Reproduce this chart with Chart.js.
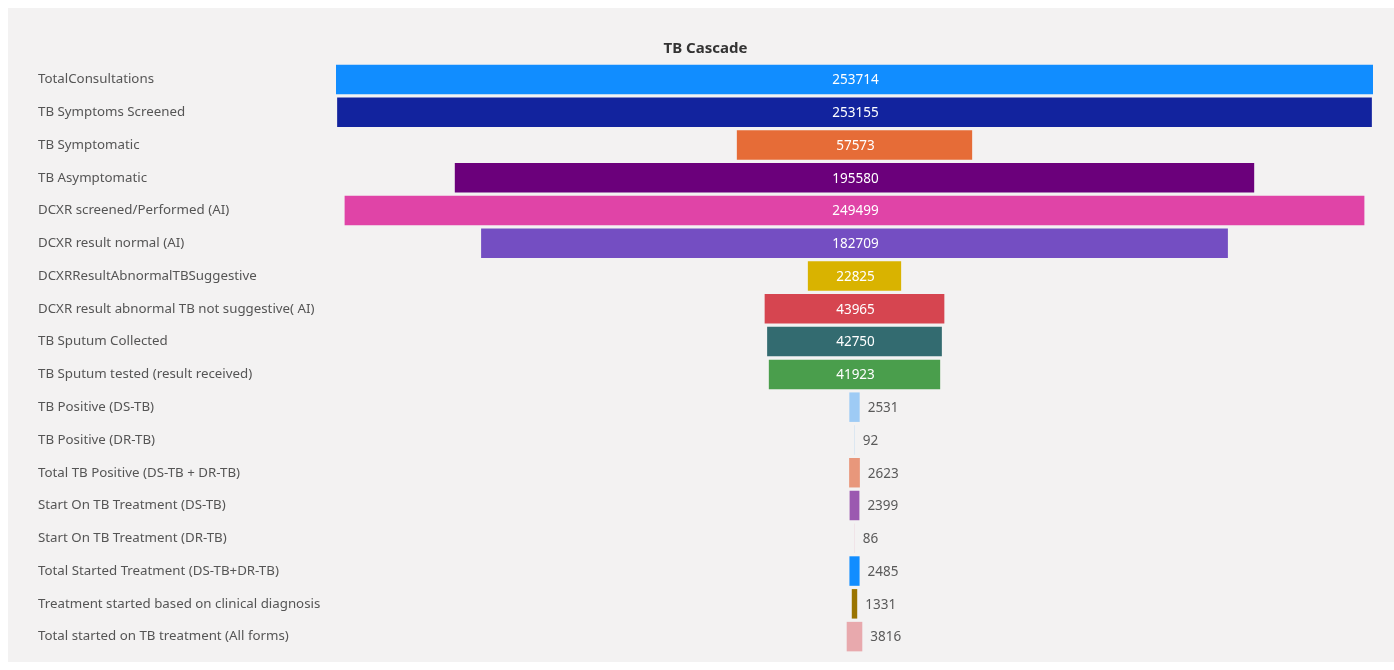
<!DOCTYPE html>
<html>
<head>
<meta charset="utf-8">
<title>TB Cascade</title>
<script src="https://cdn.jsdelivr.net/npm/chart.js@4.4.1/dist/chart.umd.min.js"></script>
<style>
  html, body { margin: 0; padding: 0; background: #ffffff; }
  #panel { position: absolute; left: 8px; top: 8px; width: 1386px; height: 654px; background: #f3f2f2; }
  #wrap { position: absolute; left: 0; top: 0; width: 1394px; height: 670px; }
</style>
</head>
<body>
<div id="panel"></div>
<div id="wrap"><canvas id="canvas" width="1394" height="670"></canvas></div>
<script>
// funnel stages, top to bottom
var stages = [
  'TotalConsultations',
  'TB Symptoms Screened',
  'TB Symptomatic',
  'TB Asymptomatic',
  'DCXR screened/Performed (AI)',
  'DCXR result normal (AI)',
  'DCXRResultAbnormalTBSuggestive',
  'DCXR result abnormal TB not suggestive( AI)',
  'TB Sputum Collected',
  'TB Sputum tested (result received)',
  'TB Positive (DS-TB)',
  'TB Positive (DR-TB)',
  'Total TB Positive (DS-TB + DR-TB)',
  'Start On TB Treatment (DS-TB)',
  'Start On TB Treatment (DR-TB)',
  'Total Started Treatment (DS-TB+DR-TB)',
  'Treatment started based on clinical diagnosis',
  'Total started on TB treatment (All forms)'
];

var counts = [253714, 253155, 57573, 195580, 249499, 182709, 22825, 43965, 42750, 41923,
              2531, 92, 2623, 2399, 86, 2485, 1331, 3816];

var barColors = [
  '#118dff', '#12239e', '#e66c37', '#6b007b', '#e044a7', '#744ec2', '#d9b300', '#d64550',
  '#336b70', '#4a9e4c', '#9ecbf5', '#b9d4ee', '#e8977b', '#9b59b0', '#ecccd8', '#118dff',
  '#9a7400', '#e8a9ad'
];

var maxCount = Math.max.apply(null, counts);

// each bar is centred on zero: [-v/2, v/2]
var spans = counts.map(function (v) { return [-v / 2, v / 2]; });

// writes the count inside wide bars, beside narrow ones
var valueLabels = {
  id: 'valueLabels',
  afterDatasetsDraw: function (chart) {
    var ctx = chart.ctx;
    var meta = chart.getDatasetMeta(0);
    ctx.save();
    ctx.font = '13.5px "Noto Sans", "Open Sans", sans-serif';
    ctx.textBaseline = 'middle';
    meta.data.forEach(function (bar, i) {
      var v = counts[i];
      var left = Math.min(bar.x, bar.base);
      var right = Math.max(bar.x, bar.base);
      if (right - left > 60) {
        ctx.fillStyle = '#ffffff';
        ctx.textAlign = 'center';
        ctx.fillText(String(v), (left + right) / 2 + 1, bar.y + 1);
      } else {
        ctx.fillStyle = '#5a5a5a';
        ctx.textAlign = 'left';
        ctx.fillText(String(v), right + 8, bar.y + 1);
      }
    });
    ctx.restore();
  }
};

var ctx = document.getElementById('canvas');
var chart = new Chart(ctx, {
  type: 'bar',
  data: {
    labels: stages,
    datasets: [{
      data: spans,
      backgroundColor: barColors,
      borderWidth: 0,
      borderSkipped: false,
      categoryPercentage: 0.9,
      barPercentage: 1
    }]
  },
  options: {
    indexAxis: 'y',
    responsive: false,
    animation: false,
    layout: { padding: { left: 38, right: 21, top: 0, bottom: 17 } },
    plugins: {
      legend: { display: false },
      tooltip: { enabled: false },
      title: {
        display: true,
        text: 'TB Cascade',
        color: '#333333',
        font: { family: '"Noto Sans", "Open Sans", sans-serif', size: 15, weight: 'bold' },
        padding: { top: 40, bottom: 5 }
      }
    },
    scales: {
      x: {
        display: false,
        min: -maxCount / 2,
        max: maxCount / 2
      },
      y: {
        grid: { display: false },
        border: { display: false },
        ticks: {
          crossAlign: 'far',
          color: '#555555',
          font: { family: '"Noto Sans", "Open Sans", sans-serif', size: 13.3 }
        },
        afterFit: function (scale) { scale.width = 298; }
      }
    }
  },
  plugins: [valueLabels]
});
</script>
</body>
</html>
